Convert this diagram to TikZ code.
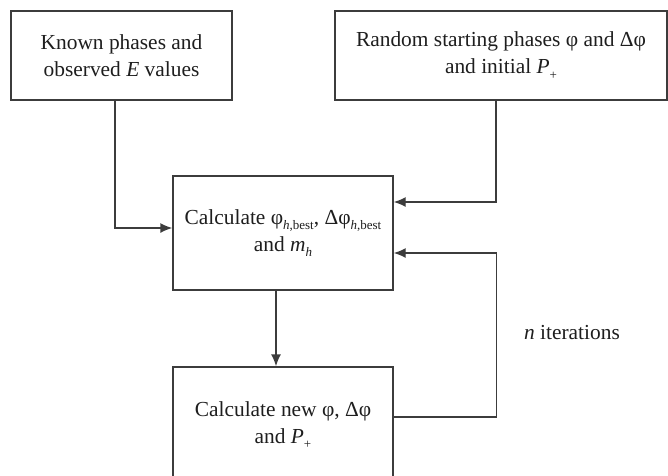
\documentclass[tikz,border=0pt]{standalone}
\usepackage{fontspec}
\setmainfont{Liberation Serif}
\usetikzlibrary{arrows.meta}
\definecolor{linecol}{HTML}{3C3C3C}
\definecolor{txtcol}{HTML}{1E1E1E}
\newcommand{\sbs}[1]{\raisebox{-0.55ex}{\fontsize{13}{13}\selectfont #1}}
\begin{document}
\begin{tikzpicture}[x=1pt,y=-1pt,
  box/.style={draw=linecol, line width=1.4pt, align=center, inner sep=0pt, text=txtcol,
    font=\fontsize{21.4}{27}\selectfont},
  conn/.style={draw=linecol, line width=1.4pt, -{Latex[length=12pt,width=10pt]}},
  lbl/.style={text=txtcol, font=\fontsize{21.4}{27}\selectfont}]
\useasboundingbox (0,0) rectangle (668,475);
\node[box, minimum width=221pt, minimum height=89pt] (known) at (121.5,55.5)
  {Known phases and\\observed \textit{E} values};
\node[box, minimum width=332pt, minimum height=89pt] (random) at (501,55.5)
  {Random starting phases φ and Δφ\\and initial \textit{P}\sbs{+}};
\node[box, minimum width=220pt, minimum height=114pt] (calc) at (283,233)
  {Calculate φ\sbs{\textit{h},best}, Δφ\sbs{\textit{h},best}\\and \textit{m}\sbs{\textit{h}}};
\node[box, minimum width=220pt, minimum height=116pt] (new) at (283,425)
  {Calculate new φ, Δφ\\and \textit{P}\sbs{+}};
\node[lbl] (iter) at (572,333) {\textit{n} iterations};
\draw[conn] ([xshift=-6.5pt]known.south) |- ([yshift=5pt]calc.west);
\draw[conn] ([xshift=-5pt]random.south) |- ([yshift=31pt]calc.east);
\draw[conn] ([xshift=-7pt]calc.south) -- ([xshift=-7pt]new.north);
\draw[conn] ([yshift=8pt]new.east) -- ++(103,0) |- ([yshift=-20pt]calc.east);
\end{tikzpicture}
\end{document}
